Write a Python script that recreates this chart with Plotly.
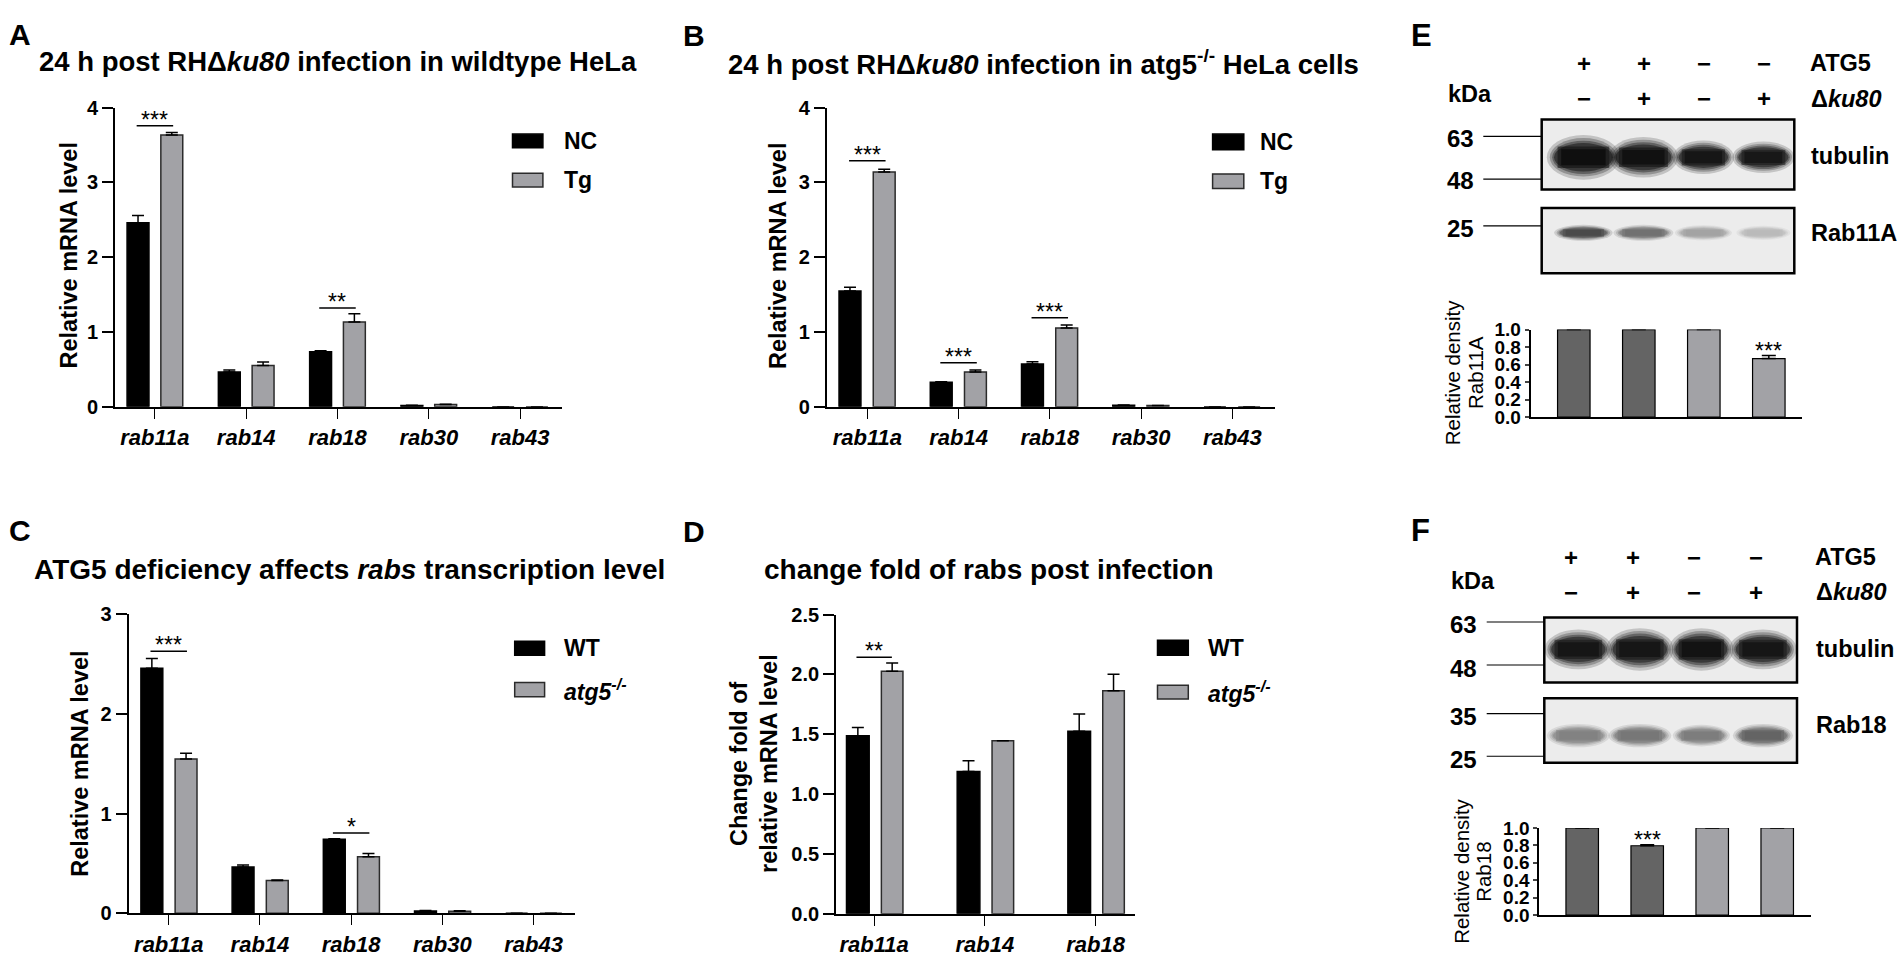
import plotly.graph_objects as go

W, H = 1904, 962
ARIAL = "Liberation Sans, Arial, sans-serif"

##########
## DATA ##
##########
genes5 = ["rab11a", "rab14", "rab18", "rab30", "rab43"]
genes3 = ["rab11a", "rab14", "rab18"]

# A: 24 h post infection, wildtype HeLa
a_nc     = [2.46, 0.466, 0.736, 0.017, 0.0]
a_nc_err = [0.10, 0.025, 0.012, 0.004, 0.0]
a_tg     = [3.634, 0.553, 1.133, 0.030, 0.0]
a_tg_err = [0.035, 0.045, 0.110, 0.005, 0.0]
a_sig_at, a_sig_y, a_sig_txt = [0, 2], [3.76, 1.32], ["***", "**"]

# B: 24 h post infection, atg5-/- HeLa
b_nc     = [1.547, 0.327, 0.571, 0.020, 0.0]
b_nc_err = [0.052, 0.008, 0.030, 0.003, 0.0]
b_tg     = [3.142, 0.466, 1.054, 0.015, 0.0]
b_tg_err = [0.035, 0.026, 0.040, 0.003, 0.0]
b_sig_at, b_sig_y, b_sig_txt = [0, 1, 2], [3.29, 0.588, 1.19], ["***", "***", "***"]

# C: WT vs atg5-/-
c_wt     = [2.458, 0.464, 0.742, 0.023, 0.0]
c_wt_err = [0.098, 0.020, 0.006, 0.003, 0.0]
c_ko     = [1.546, 0.327, 0.565, 0.020, 0.0]
c_ko_err = [0.059, 0.007, 0.033, 0.004, 0.0]
c_sig_at, c_sig_y, c_sig_txt = [0, 2], [2.627, 0.804], ["***", "*"]

# D: change fold post infection
d_wt     = [1.488, 1.189, 1.526]
d_wt_err = [0.068, 0.090, 0.144]
d_ko     = [2.027, 1.447, 1.863]
d_ko_err = [0.068, 0.0, 0.139]
d_sig_at, d_sig_y, d_sig_txt = [0], [2.144], ["**"]

# E / F: western blots + densitometry
lanes    = [1, 2, 3, 4]
atg5_row = ["+", "+", "\u2212", "\u2212"]
ku80_row = ["\u2212", "+", "\u2212", "+"]
e_kda    = ["63", "48", "25"]
f_kda    = ["63", "48", "35", "25"]
e_density     = [1.0, 1.0, 1.0, 0.669]
e_density_err = [0.0, 0.0, 0.0, 0.034]
e_sig         = ["", "", "", "***"]
f_density     = [1.0, 0.795, 1.0, 1.0]
f_density_err = [0.0, 0.012, 0.0, 0.0]
f_sig         = ["", "***", "", ""]
# band darkness (0 = white, 1 = black)
e_tubulin = [0.98, 0.97, 0.95, 0.94]
e_rab11a  = [0.72, 0.55, 0.32, 0.22]
f_tubulin = [0.95, 0.95, 0.96, 0.95]
f_rab18   = [0.47, 0.52, 0.49, 0.60]

###########
## STYLE ##
###########
BLACK, GREY, GREY_LINE, DARK = "#000000", "#a2a2a6", "#2b2b2b", "#646464"

def px(x): return x / W
def py(y): return 1 - y / H

fig = go.Figure()
layout_axes = {}
annotations = []
shapes = []

def ax_names(n):
    return ("x" + n, "y" + n, "xaxis" + n, "yaxis" + n)

def note(x, y, text, size, xanchor="center", yanchor="middle", angle=0, xref="paper", yref="paper", yshift=0, xshift=0):
    annotations.append(dict(x=x, y=y, xref=xref, yref=yref, text=text, showarrow=False, xanchor=xanchor,
                            yanchor=yanchor, textangle=angle, yshift=yshift, xshift=xshift,
                            font=dict(family=ARIAL, size=size, color="black")))

def bar_axes(n, xdom, ydom, xr, yr, dtick, cats, fmt=None):
    xr_, yr_, xk, yk = ax_names(n)
    layout_axes[xk] = dict(domain=[px(xdom[0]), px(xdom[1])], range=xr, anchor=yr_, showline=True, linewidth=2,
                           linecolor="black", ticks="outside", ticklen=10, tickwidth=1.2, tickcolor="black",
                           tickvals=list(range(len(cats))), ticktext=["<i>%s</i>" % c for c in cats], tickangle=0,
                           tickfont=dict(family=ARIAL, size=22, color="black", weight="bold"),
                           showgrid=False, zeroline=False)
    layout_axes[yk] = dict(domain=[py(ydom[1]), py(ydom[0])], range=yr, anchor=xr_, showline=True, linewidth=2,
                           linecolor="black", ticks="outside", ticklen=11, tickwidth=2, tickcolor="black",
                           dtick=dtick, tickformat=fmt, tickfont=dict(family=ARIAL, size=20, color="black", weight="bold"),
                           showgrid=False, zeroline=False)

def group_bars(n, vals, errs, color, line_color, width, offset):
    fig.add_trace(go.Bar(x=list(range(len(vals))), y=vals, width=width, offset=offset,
                         marker=dict(color=color, line=dict(color=line_color, width=1.5)),
                         error_y=dict(type="data", array=errs, arrayminus=[0] * len(vals), symmetric=False,
                                      color="black", thickness=1.5, width=6),
                         xaxis="x" + n, yaxis="y" + n, showlegend=False))

def sig_bars(n, at, ys, txts, half):
    for i, yv, t in zip(at, ys, txts):
        fig.add_trace(go.Scatter(x=[i - half, i + half], y=[yv, yv], mode="lines", line=dict(color="black", width=1.5),
                                 xaxis="x" + n, yaxis="y" + n, showlegend=False, hoverinfo="skip"))
        note(i, yv, t, 23, yanchor="bottom", xref="x" + n, yref="y" + n, yshift=-9)

def legend_box(x0, x1, y0, y1, fill, line):
    shapes.append(dict(type="rect", xref="paper", yref="paper", x0=px(x0), x1=px(x1), y0=py(y1), y1=py(y0),
                       fillcolor=fill, line=dict(color=line, width=1.5)))

##############
## PANEL A ##
##############
bar_axes("", (115.2, 561.6), (99, 405), [-0.435, 4.455], [0, 4], 1, genes5)
group_bars("", a_nc, a_nc_err, BLACK, BLACK, 0.24, -0.305)
group_bars("", a_tg, a_tg_err, GREY, GREY_LINE, 0.24, 0.065)
sig_bars("", a_sig_at, a_sig_y, a_sig_txt, 0.2)
note(px(20), py(24), "<b>A</b>", 30)
note(px(36.6), py(52), "<b>24 h post RH\u0394<i>ku80</i> infection in wildtype HeLa</b>", 27.5, xanchor="left")
note(px(69.2), py(250), "<b>Relative mRNA level</b>", 23.5, angle=-90)
legend_box(512.5, 542.9, 126, 140, BLACK, BLACK)
legend_box(512.5, 542.9, 166, 180, GREY, GREY_LINE)
note(px(561.6), py(133), "<b>NC</b>", 23, xanchor="left")
note(px(561.6), py(173), "<b>Tg</b>", 23, xanchor="left")

##############
## PANEL B ##
##############
bar_axes("2", (826.9, 1274.6), (99, 405), [-0.443, 4.464], [0, 4], 1, genes5)
group_bars("2", b_nc, b_nc_err, BLACK, BLACK, 0.24, -0.31)
group_bars("2", b_tg, b_tg_err, GREY, GREY_LINE, 0.24, 0.065)
sig_bars("2", b_sig_at, b_sig_y, b_sig_txt, 0.2)
note(px(694), py(25), "<b>B</b>", 30)
note(px(725.9), py(53), "<b>24 h post RH\u0394<i>ku80</i> infection in atg5<sup>-/-</sup> HeLa cells</b>", 27.5, xanchor="left")
note(px(778.7), py(251), "<b>Relative mRNA level</b>", 23.5, angle=-90)
legend_box(1212.6, 1243.8, 126, 142, BLACK, BLACK)
legend_box(1212.6, 1243.8, 166.7, 181.7, GREY, GREY_LINE)
note(px(1257.6), py(134), "<b>NC</b>", 23, xanchor="left")
note(px(1257.6), py(174), "<b>Tg</b>", 23, xanchor="left")

##############
## PANEL C ##
##############
bar_axes("3", (128.6, 574.6), (617.3, 923.3), [-0.44, 4.45], [0, 3], 1, genes5)
group_bars("3", c_wt, c_wt_err, BLACK, BLACK, 0.24, -0.305)
group_bars("3", c_ko, c_ko_err, GREY, GREY_LINE, 0.24, 0.07)
sig_bars("3", c_sig_at, c_sig_y, c_sig_txt, 0.2)
note(px(19.6), py(532), "<b>C</b>", 30)
note(px(32), py(571.7), "<b>ATG5 deficiency affects <i>rabs</i> transcription level</b>", 28, xanchor="left")
note(px(80.4), py(770), "<b>Relative mRNA level</b>", 23.5, angle=-90)
legend_box(514.7, 544.6, 645, 659.3, BLACK, BLACK)
legend_box(514.7, 544.6, 687.3, 701.7, GREY, GREY_LINE)
note(px(561.6), py(652), "<b>WT</b>", 23, xanchor="left")
note(px(561.6), py(694.5), "<b><i>atg5<sup>-/-</sup></i></b>", 23, xanchor="left")

##############
## PANEL D ##
##############
bar_axes("4", (836.1, 1134.5), (617.7, 924), [-0.344, 2.352], [0, 2.5], 0.5, genes3, fmt=".1f")
group_bars("4", d_wt, d_wt_err, BLACK, BLACK, 0.205, -0.25)
group_bars("4", d_ko, d_ko_err, GREY, GREY_LINE, 0.195, 0.065)
sig_bars("4", d_sig_at, d_sig_y, d_sig_txt, 0.16)
note(px(694), py(533), "<b>D</b>", 30)
note(px(761.7), py(571.7), "<b>change fold of rabs post infection</b>", 28, xanchor="left")
note(px(739.7), py(770), "<b>Change fold of</b>", 23.5, angle=-90)
note(px(769.5), py(770), "<b>relative mRNA level</b>", 23.5, angle=-90)
legend_box(1157.5, 1188.3, 644, 659.3, BLACK, BLACK)
legend_box(1157.5, 1188.3, 690, 704, GREY, GREY_LINE)
note(px(1205.7), py(651.7), "<b>WT</b>", 23, xanchor="left")
note(px(1205.7), py(697), "<b><i>atg5<sup>-/-</sup></i></b>", 23, xanchor="left")

#####################
## PANELS E AND F ##
#####################
def density_axes(n, xdom, ydom, xr):
    xr_, yr_, xk, yk = ax_names(n)
    layout_axes[xk] = dict(domain=[px(xdom[0]), px(xdom[1])], range=xr, anchor=yr_, showline=True, linewidth=2,
                           linecolor="black", showticklabels=False, ticks="", showgrid=False, zeroline=False)
    layout_axes[yk] = dict(domain=[py(ydom[1]), py(ydom[0])], range=[0, 1], anchor=xr_, showline=True, linewidth=2,
                           linecolor="black", ticks="outside", ticklen=4, tickwidth=2, dtick=0.2, tickformat=".1f",
                           tickfont=dict(family=ARIAL, size=19, color="black", weight="bold"),
                           showgrid=False, zeroline=False)

def density_bars(n, vals, errs, sig):
    fig.add_trace(go.Bar(x=list(range(len(vals))), y=vals, width=0.5, offset=-0.25,
                         marker=dict(color=[DARK, DARK, GREY, GREY], line=dict(color="black", width=1.2)),
                         error_y=dict(type="data", array=errs, arrayminus=[0] * len(vals), symmetric=False,
                                      color="black", thickness=1.5, width=7),
                         xaxis="x" + n, yaxis="y" + n, showlegend=False))
    for i, s in enumerate(sig):
        if s:
            note(i, vals[i] + errs[i], s, 23, yanchor="bottom", xref="x" + n, yref="y" + n, yshift=-10)

# soft band: (shape type, width scale, height scale, opacity), drawn back to front
BAND_LAYERS = [("circle", 1.22, 1.45, 0.18), ("circle", 1.12, 1.25, 0.25), ("circle", 1.04, 1.08, 0.35),
               ("rect", 0.86, 0.70, 0.45), ("circle", 0.98, 0.92, 0.45), ("rect", 0.74, 0.52, 0.6)]

def blot(n, xdom, ydom, xr, dark, centre, heights, widths):
    xr_, yr_, xk, yk = ax_names(n)
    layout_axes[xk] = dict(domain=[px(xdom[0]), px(xdom[1])], range=xr, anchor=yr_, visible=False)
    layout_axes[yk] = dict(domain=[py(ydom[1]), py(ydom[0])], range=[0, 1], anchor=xr_, visible=False)
    shapes.append(dict(type="rect", xref="paper", yref="paper", x0=px(xdom[0]), x1=px(xdom[1]),
                       y0=py(ydom[1]), y1=py(ydom[0]), fillcolor="#ececec", line=dict(width=0), layer="below"))
    cols = ["rgb(%d,%d,%d)" % ((round(236 * (1 - d)),) * 3) for d in dark]
    for kind, sw, sh, op in BAND_LAYERS:
        for lane, h, w, c in zip(lanes, heights, widths, cols):
            shapes.append(dict(type=kind, xref=xr_, yref=yr_, x0=lane - w * sw / 2, x1=lane + w * sw / 2,
                               y0=centre - h * sh / 2, y1=centre + h * sh / 2, fillcolor=c, opacity=op,
                               line=dict(width=0), layer="above"))
    shapes.append(dict(type="rect", xref="paper", yref="paper", x0=px(xdom[0]), x1=px(xdom[1]),
                       y0=py(ydom[1]), y1=py(ydom[0]), line=dict(color="black", width=2.5), layer="above"))

def blot_labels(n, row_y, kda, kda_y, line_y, kda_x, line_x, kda_lbl, names, name_y, name_x, sign_shift):
    for lane, a, k in zip(lanes, atg5_row, ku80_row):
        note(lane, py(row_y[0]), "<b>%s</b>" % a, 24, xref="x" + n, xshift=sign_shift)
        note(lane, py(row_y[1]), "<b>%s</b>" % k, 24, xref="x" + n, xshift=sign_shift)
    note(px(name_x), py(row_y[0]), "<b>ATG5</b>", 23.5, xanchor="left")
    note(px(name_x + 1), py(row_y[1]), "<b>\u0394<i>ku80</i></b>", 23.5, xanchor="left")
    note(px(kda_lbl[0]), py(kda_lbl[1]), "<b>kDa</b>", 23.5)
    for lbl, ty, ly in zip(kda, kda_y, line_y):
        note(px(kda_x), py(ty), "<b>%s</b>" % lbl, 24)
        shapes.append(dict(type="line", xref="paper", yref="paper", x0=px(line_x[0]), x1=px(line_x[1]),
                           y0=py(ly), y1=py(ly), line=dict(color="black", width=1.2)))
    for nm, ny in zip(names, name_y):
        note(px(name_x + 1), py(ny), "<b>%s</b>" % nm, 23.5, xanchor="left")

# E
blot("7", (1541.7, 1794.3), (111, 182.7), [0.305, 4.515], e_tubulin, 0.46, [0.44, 0.40, 0.33, 0.31], [1.0, 0.95, 0.84, 0.85])
blot("8", (1541.7, 1794.3), (201.7, 268.3), [0.305, 4.515], e_rab11a, 0.62, [0.17, 0.17, 0.16, 0.15], [0.80, 0.82, 0.78, 0.74])
blot_labels("7", (53.3, 90), e_kda, [130, 173.3, 222.7], [128.3, 172, 220], 1460, (1483.3, 1541.7),
            (1469.5, 85), ["tubulin", "Rab11A"], [148.3, 227.7], 1808.3, 1)
density_axes("5", (1530.7, 1801.7), (326, 415.7), [-0.663, 3.506])
density_bars("5", e_density, e_density_err, e_sig)
note(px(1452.7), py(370), "Relative density", 20.5, angle=-90)
note(px(1475.5), py(370), "Rab11A", 20.5, angle=-90)
note(px(1421.7), py(25), "<b>E</b>", 31)

# F
blot("9", (1544.3, 1797), (620.7, 687.3), [0.447, 4.554], f_tubulin, 0.51, [0.42, 0.45, 0.45, 0.42], [0.90, 0.90, 0.86, 0.90])
blot("10", (1544.3, 1797), (703.3, 769.3), [0.447, 4.554], f_rab18, 0.42, [0.25, 0.25, 0.23, 0.25], [0.84, 0.84, 0.76, 0.80])
blot_labels("9", (559, 595), f_kda, [628.3, 672.7, 722.3, 766], [625.3, 669.3, 719, 762.7], 1463.3, (1486.7, 1544.3),
            (1472.5, 583.3), ["tubulin", "Rab18"], [652.7, 730.7], 1813.3, -7)
density_axes("6", (1539.3, 1810.7), (836, 925.3), [-0.66, 3.515])
density_bars("6", f_density, f_density_err, f_sig)
note(px(1461.2), py(880.8), "Relative density", 20.5, angle=-90)
note(px(1484), py(881), "Rab18", 20.5, angle=-90)
note(px(1420), py(531.7), "<b>F</b>", 31)

############
## LAYOUT ##
############
fig.update_layout(width=W, height=H, margin=dict(l=0, r=0, t=0, b=0), barmode="overlay",
                  paper_bgcolor="white", plot_bgcolor="rgba(0,0,0,0)", showlegend=False,
                  annotations=annotations, shapes=shapes, font=dict(family=ARIAL, color="black"),
                  **layout_axes)
# drop the browser's default 8px page margin so the figure fills the window exactly
fig.write_html("out.html", config={"displayModeBar": False},
               post_script="document.body.style.margin='0';document.body.style.overflow='hidden';")
